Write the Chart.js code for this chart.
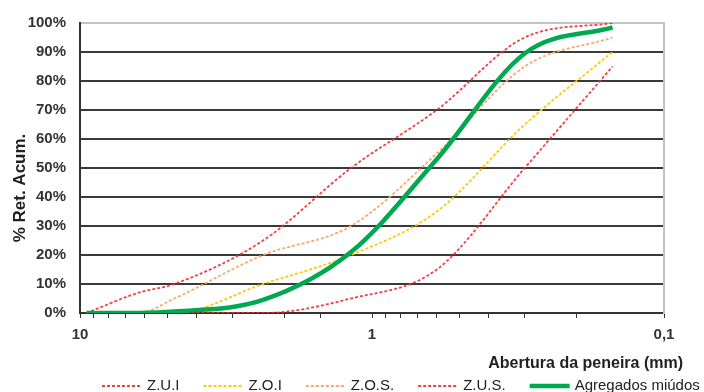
<!DOCTYPE html>
<html>
<head>
<meta charset="utf-8">
<script src="https://cdn.jsdelivr.net/npm/chart.js@4/dist/chart.umd.min.js"></script>
<style>
  html, body { margin: 0; padding: 0; background: #fff; }
  #wrap { width: 704px; height: 392px; }
</style>
</head>
<body>
<div id="wrap"><canvas id="granChart" width="704" height="392"></canvas></div>
<script>
// abertura das peneiras (mm)
const sieveSizes = [9.5, 6.3, 4.75, 2.36, 1.18, 0.6, 0.3, 0.15];
// % retida acumulada
const zuiValues = [0, 0, 0, 0, 5, 15, 50, 85];
const zoiValues = [0, 0, 0, 10, 20, 35, 65, 90];
const zosValues = [0, 0, 5, 20, 30, 55, 85, 95];
const zusValues = [0, 7, 10, 25, 50, 70, 95, 100];
const sampleValues = [0, 0, 0.5, 4.5, 21, 53, 89.5, 98.5];

const seriesNames = ["Z.U.I", "Z.O.I", "Z.O.S.", "Z.U.S.", "Agregados miúdos"];
const xLabelValues = [10, 1, 0.1];
const xLabelTexts = ["10", "1", "0,1"];
const xTitle = "Abertura da peneira (mm)";
const yTitle = "% Ret. Acum.";

const fontFamily = '"Liberation Sans", Arial, sans-serif';
Chart.defaults.font.family = fontFamily;

function toPoints(values) {
  return sieveSizes.map(function (s, i) {
    return { x: s, y: values[i] };
  });
}

function dashedSet(label, values, color) {
  return {
    label: label,
    data: toPoints(values),
    borderColor: color,
    backgroundColor: color,
    borderWidth: 1.8,
    borderDash: [3, 2],
    pointRadius: 0,
    cubicInterpolationMode: "monotone",
    fill: false,
  };
}

const redColor = "rgba(240, 45, 45, 0.9)";
const yellowColor = "rgb(255, 200, 10)";
const orangeColor = "rgb(250, 168, 105)";
const greenColor = "rgb(0, 168, 80)";

// legenda e titulos dos eixos desenhados a mao
const extraText = {
  id: "extraText",
  afterDraw(chart) {
    const ctx = chart.ctx;
    ctx.save();
    ctx.fillStyle = "#222";
    ctx.font = "bold 16px " + fontFamily;
    ctx.textAlign = "right";
    ctx.textBaseline = "alphabetic";
    ctx.fillText(xTitle, 683, 368);

    ctx.save();
    ctx.translate(25, 188);
    ctx.rotate(-Math.PI / 2);
    ctx.textAlign = "center";
    ctx.font = "bold 17px " + fontFamily;
    ctx.fillText(yTitle, 0, 0);
    ctx.restore();

    ctx.font = "15px " + fontFamily;
    ctx.textAlign = "left";
    let x = 102;
    chart.data.datasets.forEach(function (ds) {
      ctx.save();
      ctx.strokeStyle = ds.borderColor;
      ctx.lineWidth = ds.borderWidth;
      ctx.setLineDash(ds.borderDash || []);
      ctx.beginPath();
      ctx.moveTo(x, 386);
      ctx.lineTo(x + 40, 386);
      ctx.stroke();
      ctx.restore();
      ctx.fillStyle = "#222";
      ctx.fillText(ds.label, x + 45, 390);
      x += 45 + ctx.measureText(ds.label).width + 24;
    });
    ctx.restore();
  },
};

const ctx = document.getElementById("granChart").getContext("2d");

const granChart = new Chart(ctx, {
  type: "line",
  data: {
    datasets: [
      dashedSet(seriesNames[0], zuiValues, redColor),
      dashedSet(seriesNames[1], zoiValues, yellowColor),
      dashedSet(seriesNames[2], zosValues, orangeColor),
      dashedSet(seriesNames[3], zusValues, redColor),
      {
        label: seriesNames[4],
        data: toPoints(sampleValues),
        borderColor: greenColor,
        backgroundColor: greenColor,
        borderWidth: 4.5,
        pointRadius: 0,
        cubicInterpolationMode: "monotone",
        fill: false,
        order: -1,
      },
    ],
  },
  options: {
    responsive: false,
    animation: false,
    devicePixelRatio: 1,
    layout: { padding: { top: 20, left: 0, right: 0, bottom: 0 } },
    plugins: {
      legend: { display: false },
      tooltip: { enabled: false },
    },
    scales: {
      x: {
        type: "logarithmic",
        reverse: true,
        min: 0.1,
        max: 10,
        afterFit(scale) {
          scale.height = 79;
        },
        grid: {
          drawOnChartArea: false,
          drawTicks: true,
          tickLength: 5,
          color: "#333",
          lineWidth: 1,
        },
        border: { display: true, color: "#333", width: 2 },
        ticks: {
          autoSkip: false,
          maxRotation: 0,
          padding: 8,
          color: "#333",
          font: { size: 15, weight: "bold" },
          callback: function (value) {
            for (let i = 0; i < xLabelValues.length; i++) {
              if (Math.abs(value - xLabelValues[i]) < 1e-9) return xLabelTexts[i];
            }
            return "";
          },
        },
      },
      y: {
        min: 0,
        max: 100,
        afterFit(scale) {
          scale.width = 80;
        },
        grid: {
          drawTicks: false,
          lineWidth: 2,
          color: function (c) {
            return c.tick && c.tick.value === 100 ? "#c4c4c4" : "#3a3a3a";
          },
        },
        border: { display: true, color: "#333", width: 2 },
        ticks: {
          stepSize: 10,
          padding: 14,
          color: "#333",
          font: { size: 15, weight: "bold" },
          callback: function (v) {
            return v + "%";
          },
        },
      },
      y2: {
        display: true,
        position: "right",
        min: 0,
        max: 100,
        afterFit(scale) {
          scale.width = 40;
        },
        grid: { display: false, drawTicks: false },
        border: { display: true, color: "#c4c4c4", width: 2 },
        ticks: { display: false },
      },
    },
  },
  plugins: [extraText],
});
</script>
</body>
</html>
